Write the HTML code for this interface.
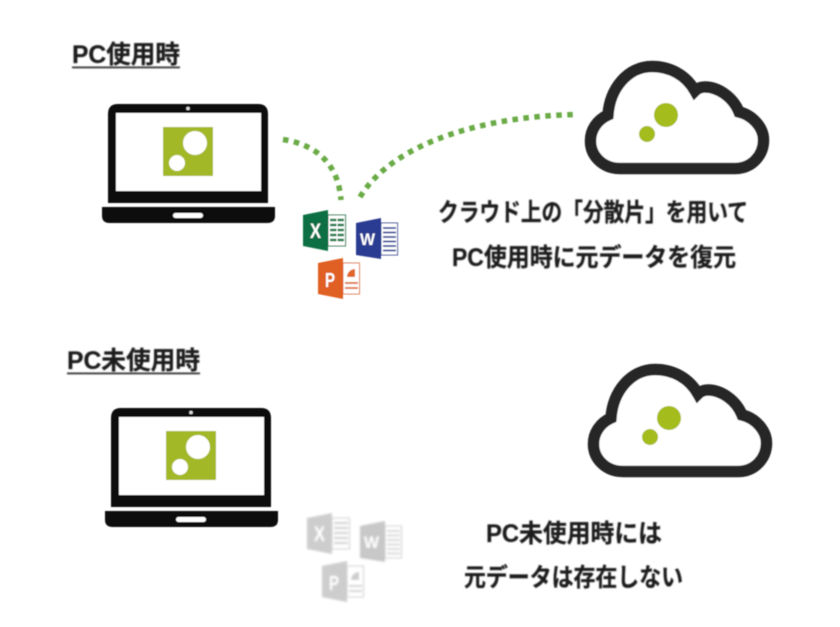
<!DOCTYPE html>
<html lang="ja">
<head>
<meta charset="utf-8">
<style>
html,body{margin:0;padding:0;background:#fff;width:840px;height:627px;overflow:hidden}
svg{display:block}
text{font-family:"Liberation Sans","Noto Sans CJK JP",sans-serif;font-weight:700;fill:#1a1a1a}
.t{font-size:25px;stroke:#1a1a1a;stroke-width:.25px}
</style>
</head>
<body>
<svg width="840" height="627" viewBox="0 0 840 627" xmlns="http://www.w3.org/2000/svg">
<defs>
<filter id="b" x="-5%" y="-5%" width="110%" height="110%"><feGaussianBlur stdDeviation="0.6"/></filter>
<filter id="bt" x="-5%" y="-5%" width="110%" height="110%"><feGaussianBlur stdDeviation="0.7"/></filter>
<filter id="b2" x="-5%" y="-5%" width="110%" height="110%"><feGaussianBlur stdDeviation="1"/></filter>
<g id="laptop">
<path d="M108 203V114Q108 104 118 104H258Q268 104 268 114V203Z" fill="#0a0a0a"/>
<rect x="116" y="113" width="145" height="78" fill="#fff"/>
<circle cx="188" cy="108.500" r="1.800" fill="#ddd"/>
<path d="M102 207H275V216Q275 223 267 223H110Q102 223 102 216Z" fill="#0a0a0a"/>
<rect x="173" y="213" width="30" height="5" rx="2.500" fill="#fff"/>
<rect x="163" y="127" width="50" height="49" fill="#a2b825"/>
<circle cx="195" cy="143" r="12" fill="#fff"/>
<circle cx="177" cy="163" r="8" fill="#fff"/>
</g>
<g id="cloud">
<path d="M620 168.500H735C752 168.500 763.500 155 763.500 140C763.500 127 752 115 739 112C733 97 718 87 705 87C701 87 698 88 695 91C686 75 670 66.500 652 66.500C628 66.500 610 88 608 115C597 120 590.500 130 590.500 141C590.500 156 603 168.500 620 168.500Z" fill="#fff" stroke="#252525" stroke-width="11.500" stroke-linejoin="miter"/>
<circle cx="666" cy="115" r="12" fill="#a4bc1e"/>
<circle cx="647" cy="134" r="8" fill="#a4bc1e"/>
</g>
</defs>

<g filter="url(#b)">
<use href="#laptop"/>
<use href="#laptop" transform="translate(3,304)"/>
<use href="#cloud"/>
<use href="#cloud" transform="translate(3,303)"/>

<path d="M283 139.500C312 144 338 160 341 200" fill="none" stroke="#6aab46" stroke-width="5.500" stroke-dasharray="5.500 5.500"/>
<path d="M360 197C395 140 490 116 576 114.500" fill="none" stroke="#6aab46" stroke-width="5.500" stroke-dasharray="5.500 5.500"/>

<!-- Excel -->
<rect x="328" y="215" width="17.500" height="31" fill="#fff" stroke="#1f7a4a" stroke-width="1"/>
<path d="M330 220H344M330 225H344M330 230H344M330 235H344M330 240H344" stroke="#1f7a4a" stroke-width="2.500"/>
<path d="M337 216V245" stroke="#fff" stroke-width="1"/>
<path d="M303 215L328 210V251L303 246Z" fill="#107044"/>
<text x="310" y="238" font-size="21" textLength="11" lengthAdjust="spacingAndGlyphs" style="fill:#fff">X</text>

<!-- Word -->
<rect x="381" y="223" width="16.500" height="32" fill="#fff" stroke="#2d4a9a" stroke-width="1"/>
<path d="M383 228H396M383 232.500H396M383 237H396M383 241.500H396M383 246H396M383 250.500H396" stroke="#34489a" stroke-width="1.800"/>
<path d="M356 223L381 218V259L356 255Z" fill="#2b3a92"/>
<text x="360" y="245" font-size="17" textLength="15" lengthAdjust="spacingAndGlyphs" style="fill:#fff">W</text>

<!-- PowerPoint -->
<rect x="343" y="263" width="16.500" height="31" fill="#fff" stroke="#e07a45" stroke-width="1"/>
<path d="M345 283H358M345 288H358" stroke="#e07a45" stroke-width="2"/>
<path d="M347 277A8 8 0 0 1 355 269V277Z" fill="#e0662a"/>
<path d="M318 263L343 258V299L318 294Z" fill="#e05f20"/>
<text x="325" y="287" font-size="20" textLength="10" lengthAdjust="spacingAndGlyphs" style="fill:#fff">P</text>
</g>

<!-- Grey icons -->
<g filter="url(#b2)" transform="translate(4,303)">
<rect x="328" y="215" width="17.500" height="31" fill="#fff" stroke="#ccc" stroke-width="1"/>
<path d="M330 220H344M330 225H344M330 230H344M330 235H344M330 240H344" stroke="#d2d2d2" stroke-width="2.200"/>
<path d="M303 215L328 210V251L303 246Z" fill="#cdcdcd"/>
<text x="310" y="238" font-size="21" textLength="11" lengthAdjust="spacingAndGlyphs" style="fill:#fff">X</text>
<rect x="381" y="223" width="16.500" height="32" fill="#fff" stroke="#ccc" stroke-width="1"/>
<path d="M383 228H396M383 232.500H396M383 237H396M383 241.500H396M383 246H396M383 250.500H396" stroke="#d2d2d2" stroke-width="1.800"/>
<path d="M356 223L381 218V259L356 255Z" fill="#c8c8c8"/>
<text x="360" y="245" font-size="17" textLength="15" lengthAdjust="spacingAndGlyphs" style="fill:#fff">W</text>
<rect x="343" y="263" width="16.500" height="31" fill="#fff" stroke="#ccc" stroke-width="1"/>
<path d="M345 283H358M345 288H358" stroke="#d2d2d2" stroke-width="2"/>
<path d="M347 277A8 8 0 0 1 355 269V277Z" fill="#cdcdcd"/>
<path d="M318 263L343 258V299L318 294Z" fill="#cdcdcd"/>
<text x="325" y="287" font-size="20" textLength="10" lengthAdjust="spacingAndGlyphs" style="fill:#fff">P</text>
</g>

<!-- Text -->
<g filter="url(#bt)">
<text class="t" x="72" y="63" textLength="108" lengthAdjust="spacingAndGlyphs">PC使用時</text>
<rect x="72" y="66.500" width="108" height="1.800" fill="#333"/>
<text class="t" x="67" y="369" textLength="133" lengthAdjust="spacingAndGlyphs">PC未使用時</text>
<rect x="67" y="372.500" width="133" height="1.800" fill="#333"/>
<text class="t" x="438" y="221" textLength="310" lengthAdjust="spacingAndGlyphs">クラウド上の「分散片」を用いて</text>
<text class="t" x="452" y="266" textLength="284" lengthAdjust="spacingAndGlyphs">PC使用時に元データを復元</text>
<text class="t" x="486" y="542" textLength="176" lengthAdjust="spacingAndGlyphs">PC未使用時には</text>
<text class="t" x="464" y="586" textLength="219" lengthAdjust="spacingAndGlyphs">元データは存在しない</text>
</g>
</svg>
</body>
</html>
